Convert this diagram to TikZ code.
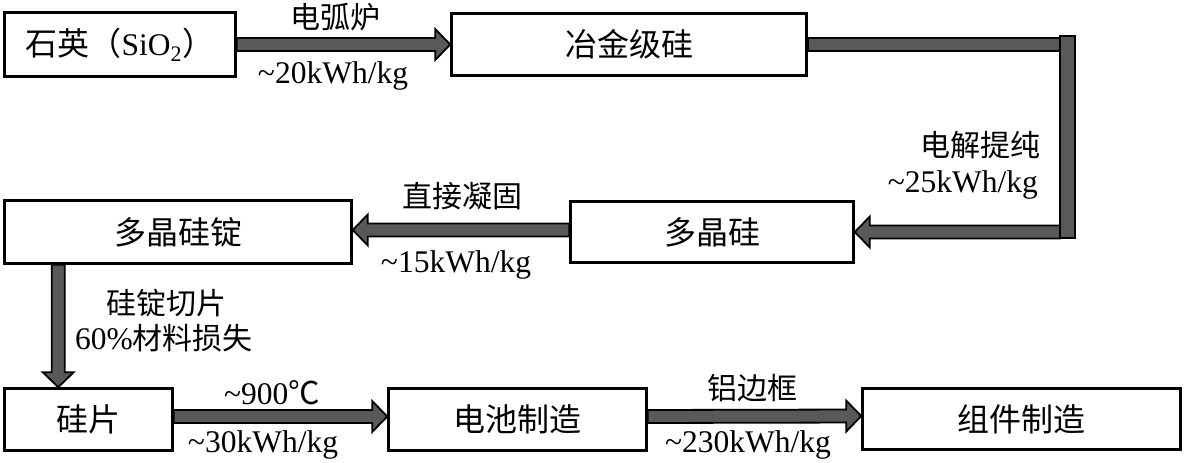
\documentclass[tikz,border=0pt]{standalone}
\usepackage{fontspec}
\setmainfont{Liberation Serif}
\newfontfamily\cjk{Noto Sans CJK SC}
\usetikzlibrary{calc}
\definecolor{arrowgray}{HTML}{595959}
\tikzset{
  stagebox/.style={draw=black, line width=2.6pt, fill=white, inner sep=0pt,
    font=\fontsize{32}{36}\selectfont\cjk},
  fatbar/.style={fill=arrowgray, draw=black, line width=1.8pt, line join=miter},
  cnlabel/.style={inner sep=0pt, font=\fontsize{30}{34}\selectfont\cjk},
  enlabel/.style={inner sep=0pt, font=\fontsize{31.5}{35}\selectfont},
}
\newcommand\fatarr[2]{%
  \coordinate (fa-h) at ($(#2)!15pt!(#1)$);
  \filldraw[fatbar] ($(#1)!6.5pt!90:(#2)$) -- ($(fa-h)!6.5pt!90:(#2)$)
    -- ($(fa-h)!15.5pt!90:(#2)$) -- (#2) -- ($(fa-h)!15.5pt!-90:(#2)$)
    -- ($(fa-h)!6.5pt!-90:(#2)$) -- ($(#1)!6.5pt!-90:(#2)$) -- cycle;
}
\begin{document}
\begin{tikzpicture}[x=1pt, y=-1pt]
\useasboundingbox[fill=white] (0,0) rectangle (1184,463);

% boxes
\node[stagebox, minimum width=231pt, minimum height=64pt] (A) at (120,44.5)
  {石英（{\rmfamily\fontsize{31.5}{35}\selectfont SiO\textsubscript{2}}）};
\node[stagebox, minimum width=355pt, minimum height=62pt] (B) at (629,44.5) {冶金级硅};
\node[stagebox, minimum width=283pt, minimum height=61pt] (C) at (712,232) {多晶硅};
\node[stagebox, minimum width=347pt, minimum height=63pt] (D) at (178,232) {多晶硅锭};
\node[stagebox, minimum width=168pt, minimum height=62pt] (E) at (88.5,419.5) {硅片};
\node[stagebox, minimum width=258pt, minimum height=62pt] (F) at (517.5,419.5) {电池制造};
\node[stagebox, minimum width=318pt, minimum height=61pt] (G) at (1021.5,419) {组件制造};

% arrow A -> B
\fatarr{A.east}{B.west}

% elbow B -> C
\coordinate (eTR) at (1075,36);
\coordinate (eBL) at (1060,238);
\coordinate (eS) at (C.east -| eBL);
\filldraw[fatbar] ($(B.east)+(0,-6.5)$) rectangle ($(B.east -| eBL)+(0,6.5)$);
\fatarr{eS}{C.east}
\filldraw[fatbar] (eTR) rectangle (eBL);

% arrow C -> D
\coordinate (cdS) at ($(C.west)+(0,-2)$);
\coordinate (cdE) at ($(D.east)+(0,-2)$);
\fatarr{cdS}{cdE}

% arrow D -> E
\coordinate (vs) at ($(D.south west)+(55,0)$);
\coordinate (ve) at (vs |- E.north);
\fatarr{vs}{ve}

% arrow E -> F
\coordinate (efS) at ($(E.east)+(0,-3)$);
\coordinate (efE) at ($(F.west)+(0,-3)$);
\fatarr{efS}{efE}

% arrow F -> G
\coordinate (fgS) at ($(F.east)+(0,-3)$);
\coordinate (fgE) at ($(G.west)+(0,-3)$);
\fatarr{fgS}{fgE}

% labels
\node[cnlabel] (l1a) at (335,17) {电弧炉};
\node[enlabel, anchor=base] (l1b) at (333,83) {\textasciitilde20kWh/kg};
\node[cnlabel, anchor=east] (l2a) at (1041,145) {电解提纯};
\node[enlabel, anchor=base east] (l2b) at (1038,192) {\textasciitilde25kWh/kg};
\node[cnlabel] (l3a) at (462,196) {直接凝固};
\node[enlabel, anchor=base] (l3b) at (456,272) {\textasciitilde15kWh/kg};
\node[cnlabel] (l4a) at (166,303) {硅锭切片};
\node[cnlabel] (l4b) at (164,338) {{\rmfamily\fontsize{31.5}{35}\selectfont 60\%}材料损失};
\node[enlabel] (l5a) at (272,393) {\textasciitilde900{\cjk ℃}};
\node[enlabel, anchor=base] (l5b) at (263,452) {\textasciitilde30kWh/kg};
\node[cnlabel] (l6a) at (752,388) {铝边框};
\node[enlabel, anchor=base] (l6b) at (748,452) {\textasciitilde230kWh/kg};
\end{tikzpicture}
\end{document}
